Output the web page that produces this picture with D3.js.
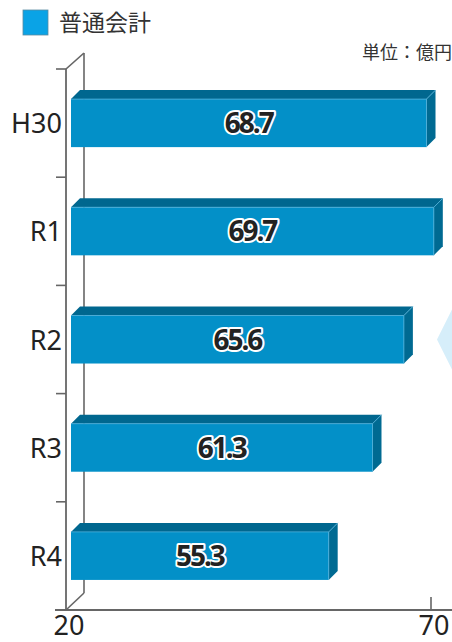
<!DOCTYPE html>
<html><head><meta charset="utf-8">
<script src="https://cdn.jsdelivr.net/npm/d3@7"></script>
<style>
html,body{margin:0;padding:0;background:#fff;}
svg{display:block;}
</style></head>
<body>
<script>
const categories = ["H30", "R1", "R2", "R3", "R4"];
const values = [68.7, 69.7, 65.6, 61.3, 55.3];
const xTicks = [20, 70];
const legendLabel = "普通会計";
const unitLabel = "単位：億円";

(function () {
const W = 452, H = 642;
const svg = d3.select("body").append("svg").attr("width", W).attr("height", H);

const x = d3.scaleLinear().domain([20, 70]).range([66, 431]);
const y = d3.scaleBand().domain(categories).range([69, 610]).paddingInner(0.556).paddingOuter(0.278);
const DX = 18, DY = 17;      // axis wall depth
const bdx = 9, bdy = 9;      // bar depth
const shift = 5;

const axisColor = "#666";
const g = svg.append("g");

g.append("line").attr("x1", x(20) + DX).attr("x2", x(20) + DX).attr("y1", 69 - DY + 1).attr("y2", 610 - DY)
  .attr("stroke", axisColor).attr("stroke-width", 1.6);
g.append("line").attr("x1", x(20)).attr("y1", 69).attr("x2", x(20) + DX).attr("y2", 69 - DY + 1)
  .attr("stroke", axisColor).attr("stroke-width", 1.6);
g.append("line").attr("x1", x(20)).attr("y1", 610).attr("x2", x(20) + DX).attr("y2", 610 - DY)
  .attr("stroke", axisColor).attr("stroke-width", 1.6);
g.append("line").attr("x1", x(20)).attr("x2", x(20)).attr("y1", 69).attr("y2", 610)
  .attr("stroke", axisColor).attr("stroke-width", 1.8);
const step = y.step();
const boundaries = d3.range(categories.length + 1).map(i => 69 + i * step);
g.selectAll(".ytick").data(boundaries.slice(0, -1)).join("line")
  .attr("x1", x(20) - 10).attr("x2", x(20)).attr("y1", d => d).attr("y2", d => d)
  .attr("stroke", axisColor).attr("stroke-width", 1.6);
g.append("line").attr("x1", x(20) - 11).attr("x2", W).attr("y1", 610).attr("y2", 610)
  .attr("stroke", axisColor).attr("stroke-width", 1.8);
g.selectAll(".xtick").data(xTicks.slice(1)).join("line")
  .attr("x1", d => x(d)).attr("x2", d => x(d)).attr("y1", 597).attr("y2", 610)
  .attr("stroke", axisColor).attr("stroke-width", 1.6);
g.selectAll(".xlabel").data(xTicks).join("text")
  .attr("x", d => x(d) + 3).attr("y", 635).attr("text-anchor", "middle")
  .attr("font-family", "'Noto Sans', sans-serif").attr("font-size", 27).attr("fill", "#222")
  .text(d => d);

const frontC = "#0390c8", topC = "#00678f", sideC = "#006a92", edgeC = "#4fb0da";
const bars = g.selectAll(".bar").data(categories.map((c, i) => ({c, v: values[i]}))).join("g");
bars.each(function(d) {
  const s = d3.select(this);
  const x0 = x(20) + shift, x1 = x(d.v) + shift;
  const y0 = y(d.c), y1 = y(d.c) + y.bandwidth();
  s.append("path").attr("d", `M${x0},${y0}L${x0 + bdx},${y0 - bdy}L${x1 + bdx},${y0 - bdy}L${x1},${y0}Z`)
    .attr("fill", topC);
  s.append("path").attr("d", `M${x1},${y0}L${x1 + bdx},${y0 - bdy}L${x1 + bdx},${y1 - bdy}L${x1},${y1}Z`)
    .attr("fill", sideC);
  s.append("rect").attr("x", x0).attr("y", y0).attr("width", x1 - x0).attr("height", y1 - y0).attr("fill", frontC);
  s.append("path").attr("d", `M${x0},${y0}L${x1},${y0}L${x1 + bdx},${y0 - bdy}M${x1},${y0}L${x1},${y1}`)
    .attr("fill", "none").attr("stroke", edgeC).attr("stroke-width", 0.8);
  s.append("text").attr("x", (x0 + x1) / 2).attr("y", (y0 + y1) / 2 + 10)
    .attr("text-anchor", "middle")
    .attr("font-family", "'Noto Sans', sans-serif").attr("font-weight", "bold").attr("font-size", 28)
    .attr("letter-spacing", -2)
    .attr("fill", "#222").attr("stroke", "#fff").attr("stroke-width", 4).attr("stroke-linejoin", "round")
    .attr("paint-order", "stroke")
    .text(d.v.toFixed(1));
  s.append("text").attr("x", 62).attr("y", (y0 + y1) / 2 + 10)
    .attr("text-anchor", "end")
    .attr("font-family", "'Noto Sans', sans-serif").attr("font-size", 27).attr("fill", "#222")
    .text(d.c);
});

const yr2 = y("R2") + y.bandwidth() / 2;
svg.append("path").attr("d", `M437,${yr2}L452,${yr2 - 30}L452,${yr2 + 30}Z`).attr("fill", "#d6eefa");

svg.append("rect").attr("x", 23).attr("y", 10).attr("width", 25).attr("height", 25)
  .attr("fill", "#0aa3e6").attr("stroke", "#5a8aa0").attr("stroke-width", 0.8);
svg.append("text").attr("x", 59).attr("y", 31)
  .attr("font-family", "'Noto Sans CJK JP', sans-serif").attr("font-size", 23).attr("fill", "#333")
  .text(legendLabel);
svg.append("text").attr("x", 452).attr("y", 59).attr("text-anchor", "end")
  .attr("font-family", "'Noto Sans CJK JP', sans-serif").attr("font-size", 18).attr("fill", "#333")
  .text(unitLabel);
})();
</script>
</body></html>
